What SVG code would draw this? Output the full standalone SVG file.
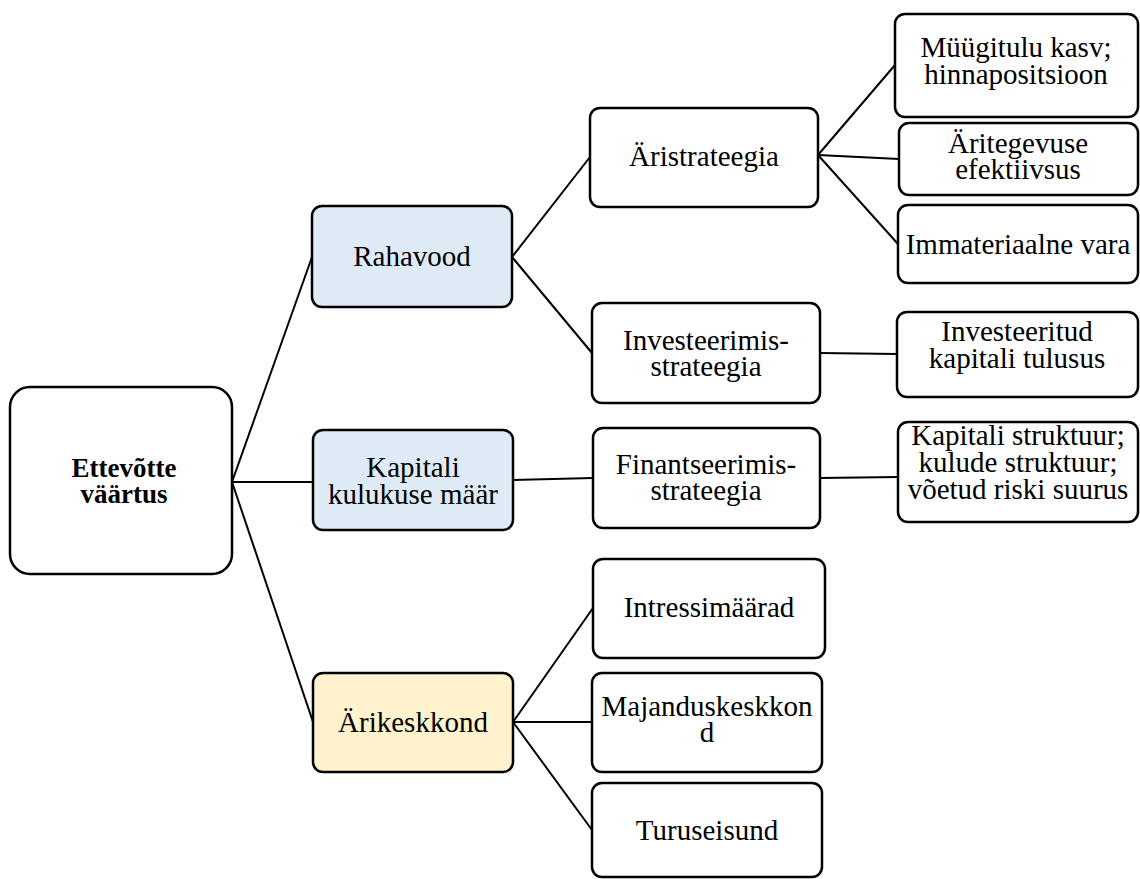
<svg xmlns="http://www.w3.org/2000/svg" width="1140" height="879" viewBox="0 0 1140 879">
  <style>
    .box { fill: #ffffff; stroke: #000000; stroke-width: 2.5; }
    .blue { fill: #deeaf6; }
    .yellow { fill: #fff2cc; }
    .lbl { font-family: "Liberation Serif", "Times New Roman", serif; font-size: 29px; fill: #000000; text-anchor: middle; }
    .bold { font-weight: bold; font-size: 27px; }
    .edge { stroke: #000000; stroke-width: 2; fill: none; }
  </style>

  <!-- connectors -->
  <g id="connectors">
    <line class="edge" x1="232" y1="482" x2="312" y2="257"/>
    <line class="edge" x1="232" y1="482" x2="313" y2="482"/>
    <line class="edge" x1="232" y1="482" x2="313" y2="722"/>
    <line class="edge" x1="512" y1="257" x2="590" y2="157"/>
    <line class="edge" x1="512" y1="257" x2="592" y2="353"/>
    <line class="edge" x1="818" y1="155" x2="895" y2="65"/>
    <line class="edge" x1="818" y1="155" x2="899" y2="159"/>
    <line class="edge" x1="818" y1="155" x2="898" y2="244"/>
    <line class="edge" x1="820" y1="353" x2="897" y2="354"/>
    <line class="edge" x1="513" y1="480" x2="593" y2="478"/>
    <line class="edge" x1="820" y1="478" x2="898" y2="477"/>
    <line class="edge" x1="513" y1="722" x2="593" y2="608"/>
    <line class="edge" x1="513" y1="722" x2="592" y2="722"/>
    <line class="edge" x1="513" y1="722" x2="592" y2="830"/>
  </g>

  <!-- root -->
  <g id="ettevotte-vaartus">
    <rect class="box" x="10" y="387" width="222" height="187" rx="20"/>
    <text class="lbl bold" x="124" y="477">Ettevõtte<tspan x="124" dy="26">väärtus</tspan></text>
  </g>

  <!-- level 1 -->
  <g id="rahavood">
    <rect class="box blue" x="312" y="206" width="200" height="101" rx="10"/>
    <text class="lbl" x="412" y="266">Rahavood</text>
  </g>
  <g id="kapitali-kulukuse-maar">
    <rect class="box blue" x="313" y="430" width="200" height="100" rx="10"/>
    <text class="lbl" x="413" y="477">Kapitali<tspan x="413" dy="27">kulukuse määr</tspan></text>
  </g>
  <g id="arikeskkond">
    <rect class="box yellow" x="313" y="673" width="200" height="99" rx="10"/>
    <text class="lbl" x="413" y="732">Ärikeskkond</text>
  </g>

  <!-- level 2 -->
  <g id="aristrateegia">
    <rect class="box" x="590" y="108" width="228" height="99" rx="10"/>
    <text class="lbl" x="704" y="166">Äristrateegia</text>
  </g>
  <g id="investeerimisstrateegia">
    <rect class="box" x="592" y="303" width="228" height="100" rx="10"/>
    <text class="lbl" x="706" y="350">Investeerimis-<tspan x="706" dy="26">strateegia</tspan></text>
  </g>
  <g id="finantseerimisstrateegia">
    <rect class="box" x="593" y="428" width="227" height="100" rx="10"/>
    <text class="lbl" x="706" y="474">Finantseerimis-<tspan x="706" dy="26">strateegia</tspan></text>
  </g>
  <g id="intressimaarad">
    <rect class="box" x="593" y="559" width="232" height="99" rx="10"/>
    <text class="lbl" x="709" y="617">Intressimäärad</text>
  </g>
  <g id="majanduskeskkond">
    <rect class="box" x="592" y="673" width="230" height="99" rx="10"/>
    <text class="lbl" x="707" y="716">Majanduskeskkon<tspan x="707" dy="26">d</tspan></text>
  </g>
  <g id="turuseisund">
    <rect class="box" x="592" y="783" width="230" height="94" rx="10"/>
    <text class="lbl" x="707" y="840">Turuseisund</text>
  </g>

  <!-- level 3 -->
  <g id="muugitulu">
    <rect class="box" x="895" y="14" width="243" height="103" rx="10"/>
    <text class="lbl" x="1016" y="57">Müügitulu kasv;<tspan x="1016" dy="27">hinnapositsioon</tspan></text>
  </g>
  <g id="aritegevuse-efektiivsus">
    <rect class="box" x="899" y="123" width="239" height="72" rx="10"/>
    <text class="lbl" x="1018" y="153">Äritegevuse<tspan x="1018" dy="26">efektiivsus</tspan></text>
  </g>
  <g id="immateriaalne-vara">
    <rect class="box" x="898" y="205" width="240" height="78" rx="10"/>
    <text class="lbl" x="1018" y="254">Immateriaalne vara</text>
  </g>
  <g id="investeeritud-kapitali-tulusus">
    <rect class="box" x="897" y="312" width="241" height="85" rx="10"/>
    <text class="lbl" x="1017" y="341">Investeeritud<tspan x="1017" dy="27">kapitali tulusus</tspan></text>
  </g>
  <g id="kapitali-struktuur">
    <rect class="box" x="898" y="422" width="240" height="100" rx="10"/>
    <text class="lbl" x="1018" y="445">Kapitali struktuur;<tspan x="1018" dy="27">kulude struktuur;</tspan><tspan x="1018" dy="27">võetud riski suurus</tspan></text>
  </g>
</svg>
